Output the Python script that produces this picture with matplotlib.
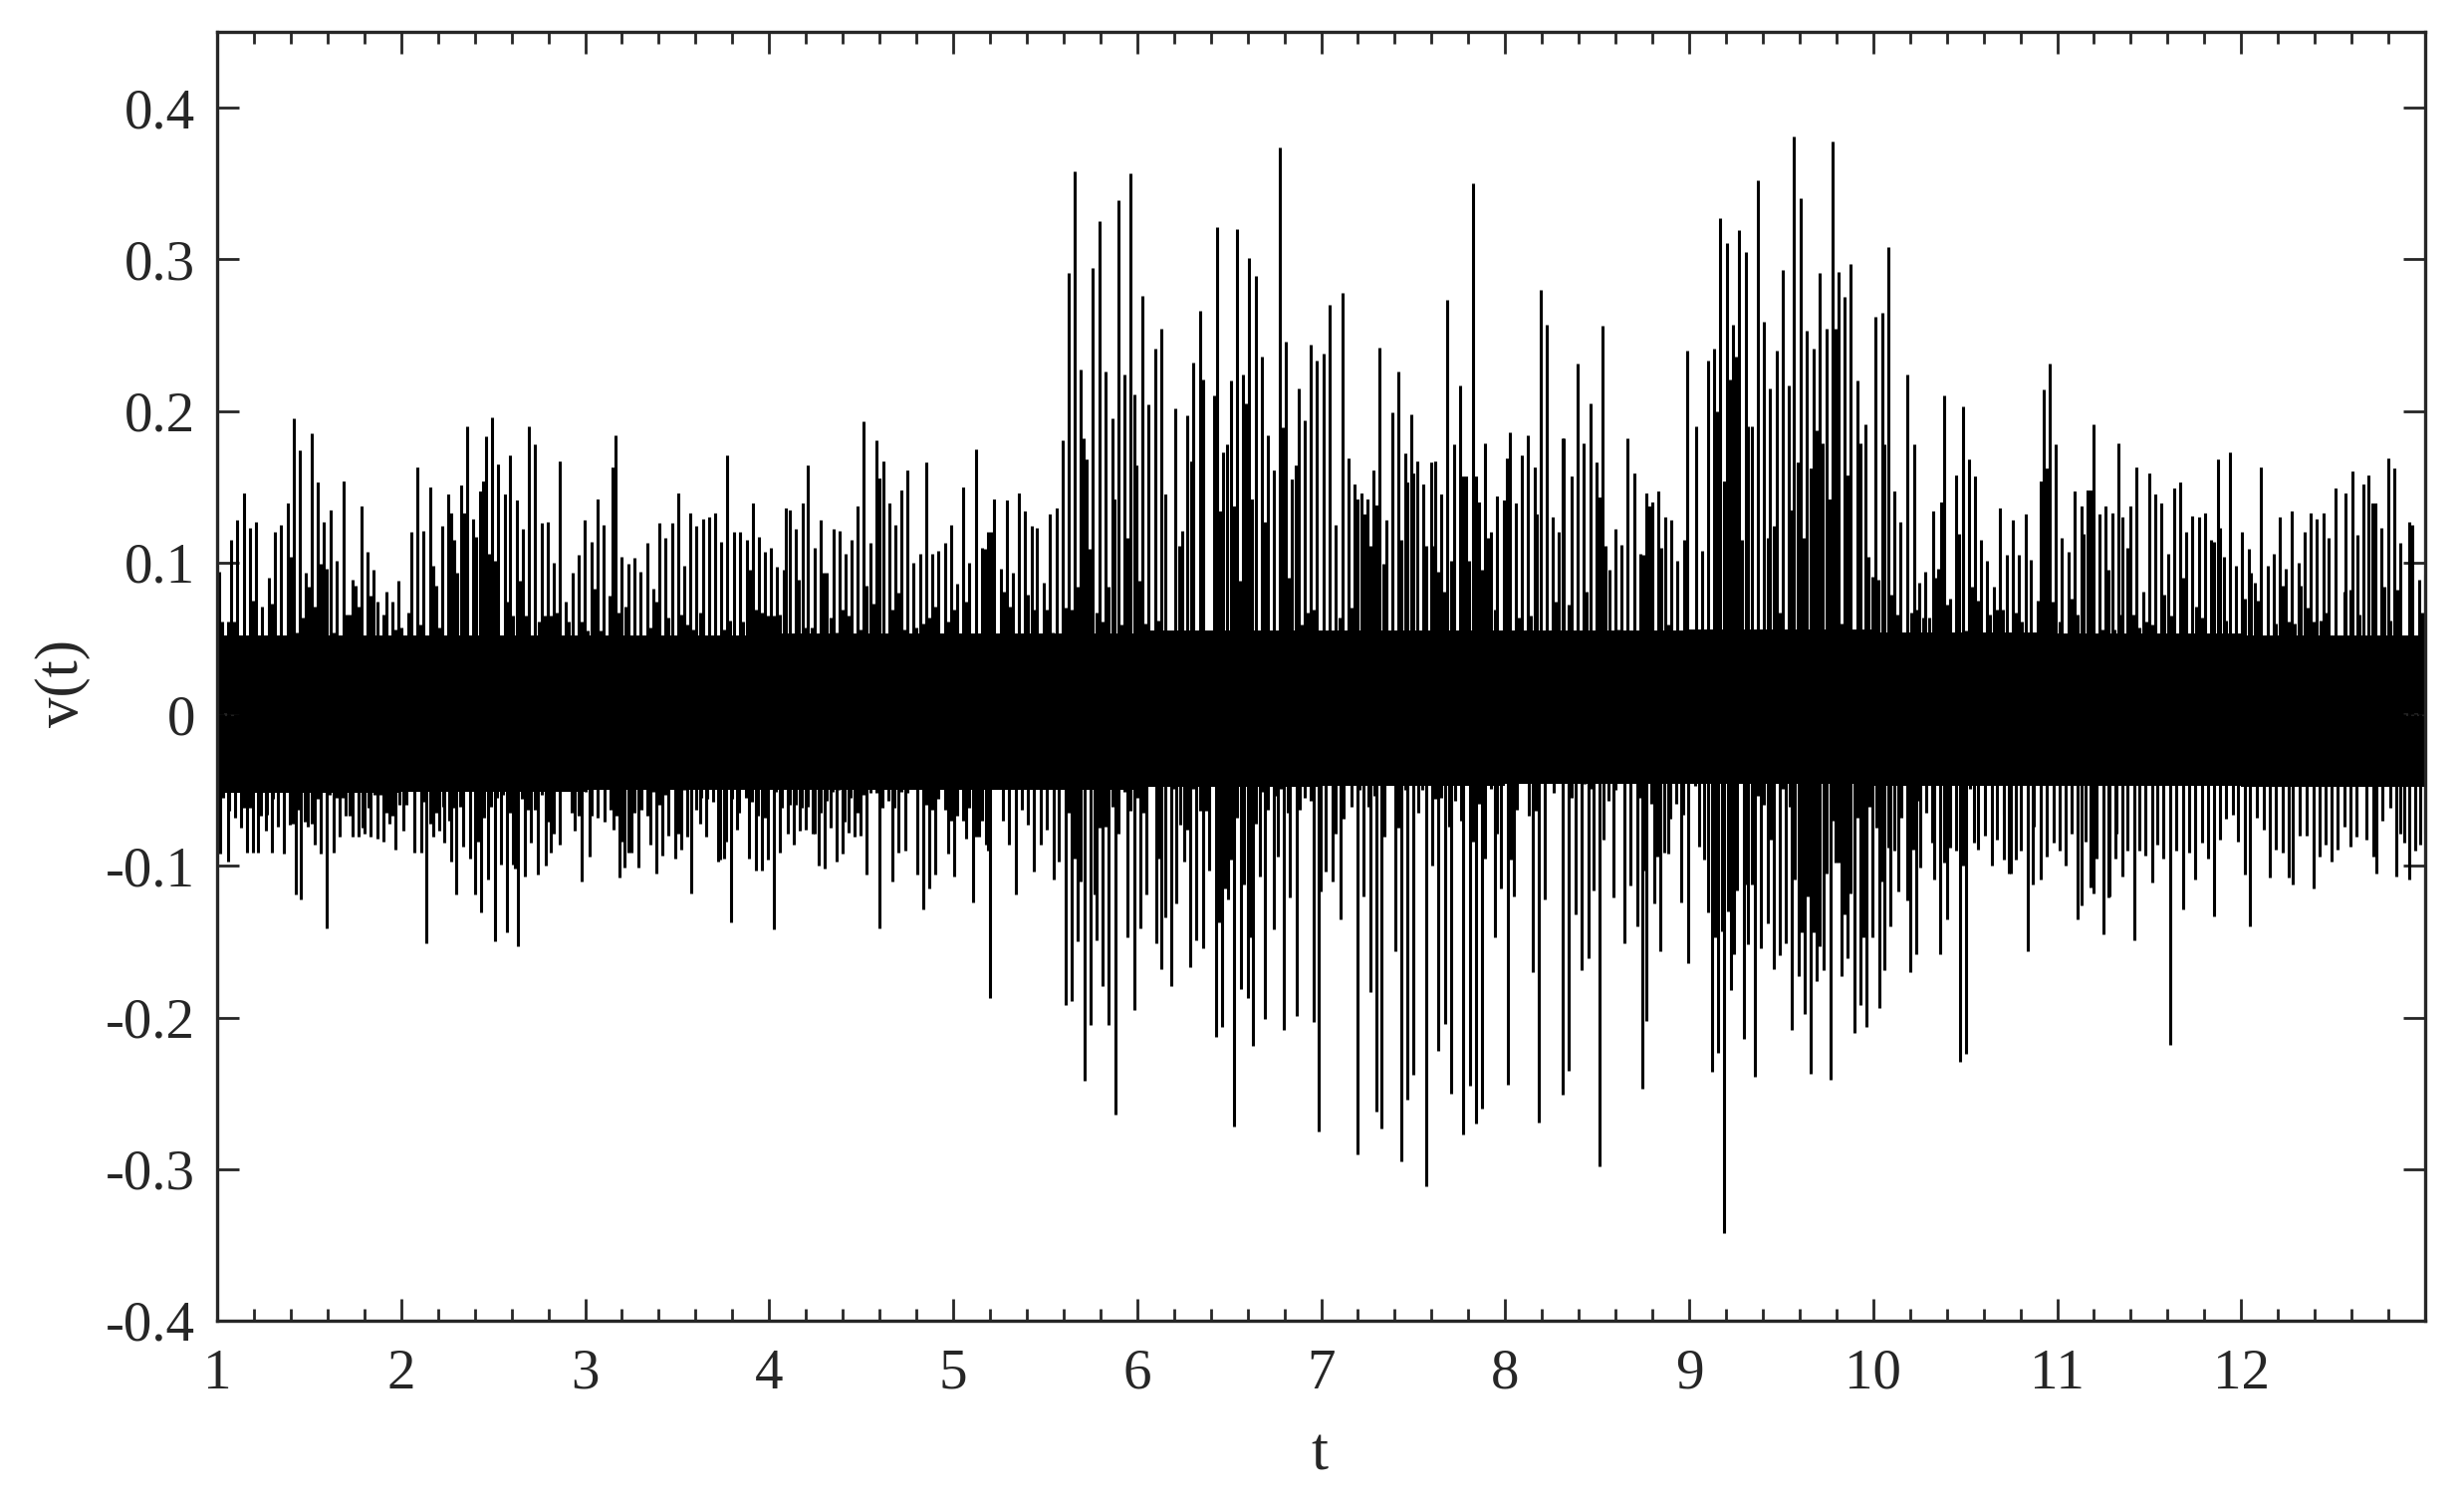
import matplotlib
matplotlib.use('Agg')
import matplotlib.pyplot as plt

# tall spikes
up_t = [1.01, 1.075, 1.11, 1.147, 1.18, 1.213, 1.246, 1.28, 1.313, 1.349, 1.382, 1.415, 1.448, 1.48, 1.515, 1.548,
        1.581, 1.617, 1.65, 1.686, 1.72, 1.753, 1.786, 1.82, 1.852, 1.918, 1.95, 1.985, 2.054, 2.087, 2.12, 2.157,
        2.19, 2.223, 2.256, 2.29, 2.325, 2.358, 2.39, 2.428, 2.46, 2.494, 2.527, 2.563, 2.594, 2.627, 2.66, 2.696,
        2.729, 2.763, 2.796, 2.829, 2.862, 2.895, 2.931, 2.965, 2.998, 3.034, 3.067, 3.1, 3.133, 3.167, 3.2, 3.236,
        3.27, 3.302, 3.338, 3.371, 3.405, 3.438, 3.471, 3.504, 3.538, 3.571, 3.606, 3.64, 3.673, 3.706, 3.739, 3.772,
        3.808, 3.841, 3.877, 3.91, 3.944, 3.977, 4.01, 4.044, 4.08, 4.09, 4.113, 4.143, 4.18, 4.212, 4.246, 4.282,
        4.312, 4.348, 4.381, 4.414, 4.448, 4.481, 4.514, 4.55, 4.583, 4.62, 4.653, 4.686, 4.72, 4.752, 4.785, 4.819,
        4.852, 4.888, 4.921, 4.954, 4.987, 5.02, 5.054, 5.087, 5.123, 5.156, 5.189, 5.222,
        5.258, 5.291, 5.324, 5.357, 5.39, 5.429, 5.457, 5.49, 5.526, 5.562, 5.595, 5.628, 5.662, 5.695, 5.728, 5.758,
        5.794, 5.828, 5.864, 5.897, 5.93, 5.966, 5.994, 6.03, 6.063, 6.099, 6.132, 6.154, 6.207, 6.243, 6.273, 6.306,
        6.34, 6.359, 6.436, 6.467, 6.508, 6.541, 6.574, 6.608, 6.644, 6.677, 6.71, 6.741, 6.777, 6.81, 6.843, 6.876,
        6.912, 6.945, 6.978, 7.015, 7.048, 7.081, 7.114, 7.15, 7.183, 7.217, 7.25, 7.283, 7.319, 7.352, 7.385, 7.419,
        7.455, 7.488, 7.521, 7.554, 7.596, 7.621, 7.654, 7.687, 7.72, 7.753, 7.787, 7.825, 7.858, 7.889, 7.922, 7.958,
        7.991, 8.025, 8.058, 8.091, 8.124, 8.16, 8.194, 8.227, 8.26, 8.293, 8.318, 8.362, 8.395, 8.428, 8.462, 8.498,
        8.531, 8.567, 8.597, 8.63, 8.667, 8.7, 8.733, 8.766, 8.799, 8.833, 8.869, 8.902, 8.935, 8.99, 9.037, 9.07,
        9.104, 9.137, 9.17, 9.203, 9.237, 9.273, 9.306, 9.339, 9.372, 9.405, 9.441, 9.474, 9.508, 9.543, 9.571,
        9.606, 9.64, 9.674, 9.711, 9.745, 9.779, 9.811, 9.845, 9.879, 9.914, 9.956, 10.011, 10.048, 10.082, 10.116,
        10.15, 10.187, 10.224, 10.25, 10.285, 10.327, 10.353, 10.387, 10.419, 10.453, 10.487, 10.521, 10.556, 10.587,
        10.621, 10.656, 10.69, 10.724, 10.758, 10.793, 10.827, 10.858, 10.893, 10.925, 10.961, 10.993, 11.027, 11.061,
        11.095, 11.13, 11.164, 11.196, 11.23, 11.264, 11.298, 11.333, 11.353, 11.398, 11.432, 11.467, 11.501, 11.533,
        11.567, 11.601, 11.635, 11.669, 11.701, 11.735, 11.77, 11.804, 11.838, 11.872, 11.904, 11.941, 11.972, 12.006,
        12.04, 12.072, 12.109, 12.143, 12.175, 12.209, 12.243, 12.277, 12.312, 12.346, 12.377, 12.412, 12.446, 12.477,
        12.514, 12.567, 12.606, 12.63, 12.662, 12.694, 12.73, 12.762, 12.799, 12.83, 12.865, 12.912, 12.93, 12.967,
        12.999]
up_v = [.094, .115, .128, .146, .123, .127, .071, .09, .12, .125, .139, .195, .174, .093, .185, .153,
        .127, .135, .101, .154, .066, .085, .137, .107, .095, .081, .074, .088, .12, .163, .121, .15,
        .085, .124, .145, .115, .151, .19, .129, .147, .183, .196, .165, .145, .171, .141, .122, .19,
        .178, .126, .127, .1, .167, .074, .093, .105, .128, .114, .142, .125, .078, .184, .104, .099,
        .103, .094, .113, .083, .126, .116, .126, .146, .098, .133, .124, .129, .13, .133, .114, .171,
        .12, .12, .115, .139, .117, .107, .11, .097, .095, .136, .135, .122, .139, .164, .11, .128,
        .093, .122, .121, .106, .115, .137, .193, .113, .181, .167, .139, .125, .148, .161, .1, .106,
        .166, .106, .108, .113, .125, .086, .15, .1, .175, .11, .12, .142,
        .096, .141, .093, .146, .134, .124, .123, .087, .132, .136, .181, .291, .358, .227, .168, .294,
        .325, .226, .195, .339, .224, .357, .164, .276, .204, .241, .254, .145, .202, .121, .197, .232,
        .266, .221, .321, .173, .22, .32, .224, .301, .289, .236, .184, .161, .374, .246, .155, .215,
        .194, .244, .233, .238, .27, .125, .278, .169, .152, .146, .142, .161, .242, .128, .199, .226,
        .172, .198, .167, .152, .166, .167, .145, .273, .178, .217, .157, .35, .14, .179, .12, .144,
        .141, .186, .139, .171, .184, .163, .28, .257, .13, .12, .182, .157, .231, .179, .205, .166,
        .256, .095, .122, .112, .182, .159, .106, .146, .14, .147, .13, .128, .101, .24, .19, .108,
        .233, .241, .327, .311, .257, .319, .305, .19, .352, .259, .215, .24, .293, .217, .381,
        .34, .253, .241, .291, .254, .378, .292, .275, .297, .22, .191, .262, .265, .308, .147,
        .127, .224, .178, .087, .094, .134, .096, .21, .076, .158, .203, .168, .157, .115,
        .101, .084, .136, .105, .128, .105, .132, .102, .075, .214, .231, .178, .116, .107,
        .147, .137, .148, .191, .132, .137, .133, .179, .13, .137, .163, .081, .159, .145,
        .139, .106, .149, .153, .12, .131, .13, .133, .115, .168, .104, .173, .098, .12,
        .109, .087, .163, .098, .106, .13, .096, .134, .1, .12, .133, .129, .133, .116,
        .149, .146, .16, .118, .152, .158, .139, .123, .169, .162, .113, .127, .125, .089,
        .092]

low_t = [1.014, 1.06, 1.097, 1.13, 1.16, 1.194, 1.22, 1.263, 1.296, 1.332, 1.365, 1.396, 1.429, 1.457, 1.495, 1.531,
         1.564, 1.598, 1.634, 1.667, 1.7, 1.736, 1.769, 1.802, 1.836, 1.869, 1.902, 1.935, 1.971, 2.01, 2.071, 2.11,
         2.137, 2.176, 2.209, 2.234, 2.273, 2.3, 2.336, 2.375, 2.4, 2.433, 2.472, 2.508, 2.541, 2.574, 2.607, 2.635,
         2.674, 2.707, 2.743, 2.785, 2.812, 2.862, 2.942, 2.981, 3.023, 3.153, 3.186, 3.216, 3.25, 3.288, 3.352, 3.385,
         3.418, 3.452, 3.488, 3.523, 3.554, 3.578, 3.623, 3.659, 3.723, 3.756, 3.792, 3.825, 3.892, 3.927, 3.961, 3.994,
         4.027, 4.058, 4.099, 4.132, 4.168, 4.201, 4.237, 4.268, 4.301, 4.334, 4.365, 4.398, 4.431, 4.465, 4.498, 4.531,
         4.6, 4.669, 4.703, 4.741, 4.807, 4.838, 4.868, 4.904, 4.971, 5.004, 5.073, 5.109, 5.142, 5.178, 5.2,
         5.341, 5.44, 5.476, 5.545, 5.573, 5.609, 5.645, 5.678, 5.714, 5.747, 5.781, 5.814, 5.847, 5.883, 5.949, 5.983,
         6.019, 6.049, 6.102, 6.132, 6.184, 6.215, 6.254, 6.29, 6.323, 6.359, 6.392, 6.431, 6.464, 6.492, 6.525, 6.564,
         6.6, 6.63, 6.666, 6.696, 6.741, 6.766, 6.799, 6.832, 6.865, 6.962, 6.987, 7.026, 7.062, 7.106, 7.197, 7.23,
         7.269, 7.3, 7.327, 7.402, 7.435, 7.468, 7.502, 7.571, 7.601, 7.637, 7.673, 7.709, 7.773, 7.809, 7.842, 7.875,
         7.944, 7.978, 8.014, 8.047, 8.149, 8.18, 8.215, 8.315, 8.345, 8.381, 8.415, 8.451, 8.478, 8.514, 8.586, 8.65,
         8.683, 8.719, 8.747, 8.769, 8.81, 8.844, 8.885, 8.954, 8.996, 9.054, 9.101, 9.126, 9.159, 9.192, 9.225, 9.245,
         9.295, 9.322, 9.358, 9.389, 9.425, 9.461, 9.494, 9.527, 9.56,
         9.595, 9.626, 9.658, 9.695, 9.729, 9.766, 9.798, 9.826, 9.863, 9.898, 9.929, 9.961, 9.998, 10.032, 10.063,
         10.092, 10.137, 10.2, 10.232, 10.255, 10.334, 10.366, 10.403, 10.471, 10.505, 10.571, 10.648, 10.708, 10.74,
         10.774, 10.842, 10.866, 10.913, 10.945, 11.048, 11.111, 11.134, 11.195, 11.25, 11.279, 11.316, 11.353, 11.421,
         11.516, 11.576, 11.616, 11.684, 11.75, 11.819, 11.855, 12.021, 12.048, 12.155, 12.224, 12.258, 12.282, 12.392,
         12.426, 12.492, 12.595, 12.734, 12.842, 12.911]
low_v = [-.092, -.097, -.068, -.075, -.091, -.091, -.091, -.077, -.091, -.074, -.092, -.073, -.119, -.122, -.074, -.086,
         -.092, -.141, -.091, -.081, -.067, -.081, -.081, -.079, -.081, -.082, -.084, -.072, -.089, -.077, -.091, -.091,
         -.151, -.081, -.077, -.085, -.097, -.119, -.087, -.095, -.119, -.131, -.109, -.15, -.099, -.144, -.099, -.153,
         -.107, -.085, -.106, -.1, -.091, -.086, -.077, -.11, -.094, -.076, -.108, -.101, -.091, -.101, -.086, -.105,
         -.093, -.08, -.095, -.089, -.081, -.118, -.072, -.081, -.097, -.095, -.137, -.076, -.095, -.103, -.103, -.096,
         -.142, -.091, -.079, -.086, -.077, -.076, -.079, -.1, -.102, -.075, -.097, -.092, -.078, -.081, -.08, -.106,
         -.141, -.11, -.091, -.09, -.106, -.129, -.115, -.106, -.092, -.107, -.082, -.124, -.081, -.086, -.187,
         -.119, -.104, -.086, -.109, -.097, -.192, -.189, -.15, -.242, -.205, -.149, -.179, -.205, -.264, -.147, -.195,
         -.141, -.119, -.151, -.168, -.179, -.125, -.097, -.167, -.149, -.154, -.103, -.213, -.206, -.122, -.272, -.181,
         -.187, -.219, -.107, -.201, -.142, -.094, -.208, -.121, -.199, -.203, -.275, -.104, -.11, -.135, -.29, -.12,
         -.183, -.262, -.273, -.156, -.295, -.254, -.238, -.311, -.1, -.222, -.204, -.25, -.277, -.245, -.27, -.26,
         -.147, -.115, -.244, -.12, -.17, -.269, -.122, -.251, -.235, -.132, -.169, -.161, -.116, -.298, -.121, -.151,
         -.113, -.14, -.247, -.202, -.125, -.156, -.092, -.124, -.164, -.087, -.131, -.236, -.223, -.342, -.182, -.158,
         -.214, -.152, -.239, -.154, -.138, -.168, -.159, -.151, -.208,
         -.173, -.198, -.237, -.176, -.169, -.241, -.098, -.173, -.161, -.21, -.192, -.206, -.147, -.194, -.169,
         -.14, -.117, -.17, -.158, -.101, -.109, -.158, -.135, -.229, -.224, -.089, -.1, -.096, -.105,
         -.096, -.156, -.112, -.109, -.094, -.1, -.135, -.126, -.118, -.145, -.121, -.095, -.107, -.149,
         -.111, -.095, -.218, -.129, -.109, -.095, -.133, -.106, -.14, -.108, -.091, -.108, -.112, -.115,
         -.094, -.097, -.087, -.105, -.107, -.109]

# lower spikes sitting in the gaps between the tall ones
mid_up_t = [1.025, 1.058, 1.091, 1.127, 1.196, 1.263, 1.296, 1.398, 1.432, 1.465, 1.498, 1.531, 1.564, 1.598, 1.634,
            1.667, 1.703, 1.736, 1.769, 1.836, 1.869, 1.902, 1.935, 1.968, 2.002, 2.038, 2.071, 2.104, 2.14, 2.173,
            2.206, 2.273, 2.306, 2.342, 2.375, 2.408, 2.444, 2.477, 2.511, 2.544, 2.577, 2.61, 2.644, 2.677, 2.713,
            2.746, 2.779, 2.812, 2.846, 2.912, 2.948, 2.981, 3.014, 3.05, 3.084, 3.117, 3.15, 3.183, 3.219, 3.319,
            3.355, 3.388, 3.421, 3.454, 3.488, 3.521, 3.554, 3.587, 3.623, 3.689, 3.723, 3.756, 3.789, 3.825, 3.858,
            3.894, 3.927, 3.961, 3.994, 4.027, 4.06, 4.16, 4.196, 4.229, 4.262, 4.296, 4.332, 4.365, 4.398, 4.431,
            4.464, 4.498, 4.531, 4.567, 4.6, 4.633, 4.669, 4.702, 4.735, 4.769, 4.802, 4.835, 4.868, 4.904, 4.937,
            4.971, 5.004, 5.037, 5.07, 5.139, 5.173, 5.206,
            5.274, 5.307, 5.407, 5.44, 5.507, 5.54, 5.579, 5.612, 5.645, 5.678, 5.711, 5.739, 5.778, 5.811, 5.844,
            5.877, 5.913, 5.947, 5.983, 6.01, 6.046, 6.079, 6.115, 6.226, 6.256, 6.292, 6.417, 6.453, 6.489, 6.525,
            6.558, 6.591, 6.624, 6.694, 6.727, 6.76, 6.793, 6.826, 6.86, 6.893, 6.929, 6.962, 7.098, 7.167, 7.2,
            7.233, 7.267, 7.3, 7.336, 7.435, 7.468, 7.502, 7.571, 7.607, 7.637, 7.67, 7.704, 7.77, 7.803, 7.842,
            7.872, 7.905, 7.942, 7.975, 8.008, 8.074, 8.141, 8.174, 8.277, 8.312, 8.345, 8.445, 8.514, 8.548, 8.581,
            8.614, 8.75, 8.783, 8.849, 8.885, 8.971, 9.018, 9.087, 9.154, 9.187, 9.22, 9.253, 9.289, 9.322, 9.425,
            9.458, 9.491, 9.527, 9.557,
            9.59, 9.624, 9.658, 9.692, 9.726, 9.761, 9.795, 9.829, 9.863, 9.932, 9.974, 9.995, 10.029, 10.063, 10.098,
            10.132, 10.208, 10.242, 10.274, 10.305, 10.34, 10.371, 10.403, 10.434, 10.469, 10.505, 10.537, 10.571,
            10.637, 10.671, 10.705, 10.774, 10.808, 10.842, 10.874, 10.908, 10.942, 10.976, 11.011, 11.079, 11.111,
            11.145, 11.179, 11.245, 11.279, 11.313, 11.347, 11.382, 11.416, 11.448, 11.482, 11.516, 11.584, 11.619,
            11.687, 11.719, 11.753, 11.787, 11.853, 11.887, 11.919, 11.955, 12.021, 12.055, 12.09, 12.19, 12.224,
            12.258, 12.292, 12.326, 12.361, 12.395, 12.429, 12.461, 12.532, 12.563, 12.595, 12.642, 12.711, 12.779,
            12.813, 12.848, 12.916, 12.982]
mid_up_v = [.061, .061, .061, .044, .075, .051, .073, .104, .054, .064, .084, .071, .099, .096, .054,
            .051, .066, .089, .071, .078, .074, .066, .05, .056, .057, .067, .05, .059, .044, .098,
            .057, .133, .093, .133, .046, .117, .154, .106, .101, .049, .074, .065, .088, .065, .045,
            .061, .065, .065, .067, .061, .047, .061, .055, .083, .055, .049, .163, .067, .071, .049,
            .057, .074, .051, .064, .047, .066, .059, .056, .067, .047, .047, .056, .062, .049, .061,
            .095, .069, .067, .065, .065, .066, .089, .057, .057, .051, .093, .064, .054, .069, .065,
            .05, .056, .085, .073, .156, .051, .069, .08, .056, .045, .057, .06, .064, .071, .047,
            .061, .069, .049, .074, .047, .109, .12,
            .081, .071, .079, .069, .069, .054, .05, .07, .069, .084, .182, .109, .067, .061, .084,
            .142, .059, .116, .211, .088, .06, .055, .062, .111, .054, .167, .21, .134, .178, .137,
            .088, .205, .142, .127, .05, .052, .189, .09, .164, .059, .067, .069, .064, .07, .142,
            .132, .111, .138, .099, .115, .153, .159, .111, .111, .094, .081, .101, .157, .101, .157,
            .095, .116, .069, .054, .169, .064, .065, .132, .074, .182, .072, .081, .143, .111, .055,
            .056, .105, .137, .11, .059, .115, .054, .054, .2, .154, .221, .236, .115, .19, .116,
            .124, .067, .055, .135,
            .166, .116, .162, .187, .179, .142, .254, .06, .158, .179, .104, .091, .089, .178, .079,
            .066, .067, .069, .064, .064, .09, .14, .072, .054, .119, .055, .084, .075,
            .066, .069, .069, .067, .061, .054, .054, .154, .162, .074, .061, .076, .066,
            .119, .148, .056, .095, .056, .066, .11, .066, .057, .061, .059, .079, .065,
            .09, .051, .071, .064, .114, .123, .062, .052, .076, .093, .075, .06, .085,
            .061, .06, .085, .07, .061, .062, .067, .052, .081, .082, .066, .139, .084,
            .062, .082, .105, .067]

mid_low_t = [1.03, 1.064, 1.113, 1.147, 1.18, 1.208, 1.238, 1.271, 1.304, 1.34, 1.41, 1.443, 1.479, 1.512, 1.548, 1.581,
             1.614, 1.65, 1.683, 1.719, 1.755, 1.788, 1.822, 1.855, 1.888, 1.921, 1.955, 1.991, 2.029, 2.06, 2.087,
             2.123, 2.157, 2.193, 2.226, 2.259, 2.289, 2.32, 2.356, 2.386, 2.419, 2.45, 2.486, 2.522, 2.555, 2.591,
             2.621, 2.657, 2.688, 2.724, 2.763, 2.796, 2.832, 2.929, 2.965, 3.001, 3.034, 3.069, 3.106, 3.139, 3.172,
             3.2, 3.236, 3.269, 3.305, 3.338, 3.369, 3.402, 3.435, 3.504, 3.537, 3.568, 3.601, 3.631, 3.665, 3.698,
             3.731, 3.764, 3.797, 3.836, 3.872, 3.905, 3.941, 3.975, 4.038, 4.071, 4.113, 4.146, 4.179, 4.212, 4.246,
             4.279, 4.312, 4.345, 4.379, 4.412, 4.445, 4.478, 4.511, 4.55, 4.583, 4.616, 4.65, 4.683, 4.716, 4.749,
             4.854, 4.888, 4.921, 4.954, 4.987, 5.02, 5.054, 5.087, 5.123, 5.156, 5.187,
             5.269, 5.302, 5.374, 5.407, 5.509, 5.628, 5.662, 5.695, 5.767, 5.797, 5.828, 5.864, 5.9, 5.933, 5.966,
             6.002, 6.032, 6.115, 6.154, 6.196, 6.232, 6.27, 6.304, 6.342, 6.376, 6.406, 6.447, 6.48, 6.508, 6.541,
             6.58, 6.613, 6.647, 6.68, 6.713, 6.755, 6.782, 6.818, 6.885, 6.912, 6.945, 6.998, 7.078, 7.122, 7.167,
             7.211, 7.255, 7.289, 7.344, 7.421, 7.455, 7.527, 7.549, 7.587, 7.621, 7.654, 7.693, 7.726, 7.759, 7.825,
             7.858, 7.892, 7.925, 7.958, 8.03, 8.063, 8.13, 8.166, 8.229, 8.263, 8.362, 8.431, 8.465, 8.498, 8.534,
             8.564, 8.6, 8.733, 8.761, 8.794, 8.827, 8.863, 8.899, 8.932, 8.965, 9.032, 9.082, 9.142, 9.176, 9.209,
             9.259, 9.309, 9.342, 9.375, 9.408, 9.444, 9.511, 9.544,
             9.576, 9.611, 9.642, 9.676, 9.711, 9.748, 9.782, 9.813, 9.845, 9.879, 9.913, 9.945, 9.979, 10.016, 10.05,
             10.082, 10.116, 10.153, 10.184, 10.216, 10.248, 10.287, 10.319, 10.384, 10.419, 10.453, 10.49, 10.524,
             10.55, 10.608, 10.674, 10.708, 10.748, 10.805, 10.874, 10.979, 11.013, 11.076, 11.155, 11.182, 11.216,
             11.282, 11.321, 11.384, 11.445, 11.479, 11.542, 11.648, 11.716, 11.787, 11.884, 11.916, 11.953, 11.984,
             12.084, 12.121, 12.187, 12.316, 12.358, 12.458, 12.524, 12.563, 12.629, 12.682, 12.716, 12.768, 12.813,
             12.866, 12.884, 12.945, 12.971, 12.998]
mid_low_v = [-.055, -.064, -.051, -.062, -.062, -.05, -.067, -.066, -.056, -.047, -.072, -.063, -.071, -.072, -.056, -.048,
             -.053, -.055, -.055, -.067, -.046, -.075, -.062, -.053, -.053, -.065, -.067, -.06, -.06, -.047, -.05,
             -.058, -.072, -.065, -.061, -.07, -.062, -.061, -.046, -.047, -.084, -.068, -.061, -.055, -.053, -.065,
             -.102, -.056, -.063, -.063, -.053, -.071, -.079, -.065, -.067, -.051, -.067, -.068, -.071, -.063, -.067,
             -.084, -.091, -.065, -.063, -.067, -.051, -.06, -.053, -.079, -.05, -.047, -.063, -.055, -.056, -.058,
             -.096, -.084, -.056, -.065, -.055, -.058, -.067, -.068, -.051, -.062, -.06, -.06, -.062, -.061, -.079,
             -.065, -.057, -.051, -.05, -.071, -.055, -.065, -.053, -.052, -.052, -.062, -.057, -.062, -.051, -.052,
             -.06, -.063, -.056, -.063, -.07, -.067, -.07, -.062, -.081, -.07, -.09,
             -.07, -.086, -.063, -.073, -.076, -.065, -.095, -.11, -.119, -.075, -.074, -.061, -.079, -.051, -.064,
             -.055, -.065, -.095, -.134, -.049, -.073, -.076, -.049, -.064, -.064, -.047, -.137, -.115, -.096, -.068,
             -.112, -.147, -.072, -.051, -.063, -.054, -.049, -.065, -.063, -.055, -.057, -.117, -.079, -.069, -.061,
             -.05, -.061, -.054, -.081, -.075, -.05, -.065, -.05, -.046, -.056, -.055, -.074, -.057, -.07, -.084,
             -.059, -.095, -.049, -.079, -.096, -.063, -.067, -.064, -.045, -.052, -.055, -.046, -.049, -.045, -.083,
             -.057, -.05, -.055, -.103, -.059, -.094, -.091, -.069, -.059, -.066, -.047, -.096, -.147, -.143, -.13,
             -.116, -.112, -.112, -.054, -.06, -.083, -.049, -.061,
             -.109, -.144, -.12, -.144, -.153, -.105, -.07, -.098, -.132, -.118, -.068, -.147, -.061, -.075, -.11,
             -.088, -.09, -.068, -.123, -.089, -.057, -.065, -.085, -.098, -.088, -.09, -.1, -.049,
             -.085, -.08, -.083, -.066, -.105, -.09, -.074, -.085, -.09, -.079, -.084, -.114, -.095,
             -.12, -.079, -.09, -.09, -.093, -.086, -.09, -.091, -.085, -.083, -.069, -.066, -.084,
             -.068, -.076, -.089, -.08, -.08, -.086, -.089, -.074, -.081, -.083, -.094, -.07, -.062,
             -.079, -.085, -.09, -.086, -.079]

# solid band around zero, one level per unit of t
band_t = [1, 2, 3, 4, 5, 6, 7, 8, 9, 10, 11, 12, 13]
band_up = [.052, .052, .052, .053, .053, .055, .055, .055, .056, .054, .053, .052, .052]
band_low = [-.052, -.051, -.05, -.05, -.05, -.048, -.047, -.046, -.046, -.047, -.047, -.048, -.048]

x_ticks = list(range(1, 13))
y_ticks = [-0.4, -0.3, -0.2, -0.1, 0, 0.1, 0.2, 0.3, 0.4]
y_labels = ['-0.4', '-0.3', '-0.2', '-0.1', '0', '0.1', '0.2', '0.3', '0.4']
x_minor = [i / 5 for i in range(5, 65)]

plt.rcParams['font.family'] = ['Liberation Serif', 'DejaVu Serif']
dark = '#262626'

fig = plt.figure(figsize=(12.37, 7.54), dpi=200)
ax = fig.add_axes([218 / 2474, 1 - 1326 / 1508, (2435 - 218) / 2474, (1326 - 32) / 1508])

ax.fill_between(band_t, band_low, band_up, step='post', color='k', lw=0)
ax.vlines(mid_up_t, 0, mid_up_v, color='k', lw=1.1)
ax.vlines(mid_low_t, mid_low_v, 0, color='k', lw=1.1)
ax.vlines(up_t, 0, up_v, color='k', lw=1.1)
ax.vlines(low_t, low_v, 0, color='k', lw=1.1)

ax.set_xlim(1, 13)
ax.set_ylim(-0.4, 0.45)
ax.set_xticks(x_ticks)
ax.set_yticks(y_ticks, y_labels)
ax.set_xticks([m for m in x_minor if m not in x_ticks], minor=True)
ax.tick_params(which='major', direction='in', top=True, right=True, length=8, width=1.0,
               color=dark, labelcolor=dark, labelsize=20.5)
ax.tick_params(which='minor', direction='in', top=True, length=4.3, width=1.0, color=dark)
ax.tick_params(axis='x', which='major', pad=10)
ax.tick_params(axis='y', which='major', pad=8)
for s in ax.spines.values():
    s.set_linewidth(1.2)
    s.set_color(dark)
ax.set_xlabel('t', fontsize=22, color=dark)
ax.set_ylabel('v(t)', fontsize=22, color=dark)
ax.xaxis.set_label_coords((1325 - 218) / 2217, -(1461 - 1326) / 1294, transform=ax.transAxes)
ax.yaxis.set_label_coords(-(218 - 63) / 2217, (1326 - 686) / 1294, transform=ax.transAxes)
ax.xaxis.label.set_va('center')
ax.yaxis.label.set_va('center')

plt.savefig('out.png', dpi=200)
